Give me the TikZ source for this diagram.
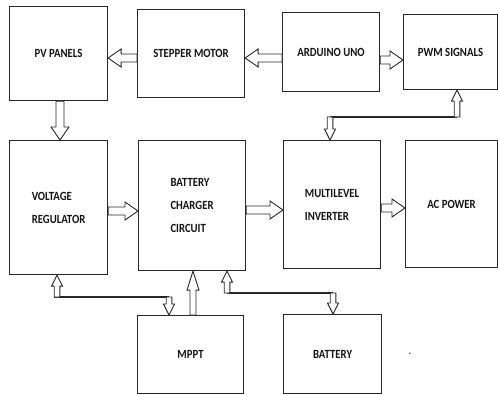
\documentclass[tikz,border=0pt]{standalone}
\usepackage{fontspec}
\setmainfont{Carlito}[FakeStretch=0.86]
\usetikzlibrary{calc}
\definecolor{cLine}{RGB}{40,40,40}
\definecolor{cText}{RGB}{20,20,20}
\tikzset{
	blk/.style={rectangle, draw=cLine, line width=1.1pt, align=left, inner sep=0pt, anchor=north west, text=cText, font=\bfseries\fontsize{12.5}{23}\selectfont},
	% hollow block arrow: shaft half-width, head half-width, head length
	hollow/.style n args={3}{draw=cLine, line width=0.9pt, fill=white, line join=miter, to path={
		let \p1=(\tikztostart), \p2=(\tikztotarget), \p3=($(\p2)!#3!(\p1)$) in
		($(\p1)!#1!90:(\p2)$) -- ($(\p3)!#1!90:(\p2)$) -- ($(\p3)!#2!90:(\p2)$) -- (\p2)
		-- ($(\p3)!#2!-90:(\p2)$) -- ($(\p3)!#1!-90:(\p2)$) -- ($(\p1)!#1!-90:(\p2)$) -- cycle}},
	bigarr/.style={hollow={4pt}{9pt}{13pt}},
	smallarr/.style={hollow={2.8pt}{5.5pt}{11pt}},
	bus/.style={draw=cLine, line width=1.2pt},
}
\begin{document}
\begin{tikzpicture}[x=1pt, y=-1pt]
	\fill[white] (0,0) rectangle (498,394);
	\useasboundingbox (0,0) rectangle (498,394);
	\node[blk, minimum width=98pt, minimum height=94pt] (pv) at (9,6) {PV PANELS};
	\node[blk, minimum width=107pt, minimum height=88pt] (sm) at (137,9) {STEPPER MOTOR};
	\node[blk, minimum width=97pt, minimum height=79pt] (ard) at (282,12) {ARDUINO UNO};
	\node[blk, minimum width=94pt, minimum height=75pt] (pwm) at (403,14) {PWM SIGNALS};
	\node[blk, minimum width=98pt, minimum height=134pt] (vr) at (9,140) {VOLTAGE\\REGULATOR};
	\node[blk, minimum width=107pt, minimum height=130pt] (bcc) at (138,140) {BATTERY\\CHARGER\\CIRCUIT};
	\node[blk, minimum width=97pt, minimum height=128pt] (mi) at (283,140) {MULTILEVEL\\INVERTER};
	\node[blk, minimum width=92pt, minimum height=127pt] (ac) at (405,140) {AC POWER};
	\node[blk, minimum width=106pt, minimum height=78pt] (mppt) at (137,315) {MPPT};
	\node[blk, minimum width=98pt, minimum height=79pt] (bat) at (283,314) {BATTERY};
	\node[font=\bfseries, text=cText, inner sep=0pt] (stray) at (410,354) {.};
	% top row and main power path
	\draw[bigarr] (sm.west |- 0,58) to (pv.east |- 0,58);
	\draw[bigarr] (ard.west |- 0,58) to (sm.east |- 0,58);
	\draw[bigarr] (ard.east |- 0,60) to (pwm.west |- 0,60);
	\draw[bigarr] (pv.south -| 60,0) to (vr.north -| 60,0);
	\draw[bigarr] (vr.east |- 0,211) to (bcc.west |- 0,211);
	\draw[bigarr] (bcc.east |- 0,210) to (mi.west |- 0,210);
	\draw[bigarr] (mi.east |- 0,208) to (ac.west |- 0,208);
	% pwm feedback
	\coordinate (pj) at (457,117);
	\coordinate (mj) at (330,117);
	\draw[bus] (pj) -- (mj);
	\draw[smallarr] (pj) to (pj |- pwm.south);
	\draw[smallarr] (mj) to (mj |- mi.north);
	% bottom links
	\coordinate (vj) at (57,297);
	\coordinate (mpj) at (169,297);
	\coordinate (cj) at (227,293);
	\coordinate (bj) at (333,293);
	\draw[bus] ([xshift=-3pt]vj) -- (mpj);
	\draw[bus] (cj) -- (bj);
	\draw[smallarr] (vj) to (vj |- vr.south);
	\draw[smallarr] (mpj) to (mpj |- mppt.north);
	\draw[hollow={3pt}{6pt}{19pt}] (mppt.north -| 193,0) to (bcc.south -| 193,0);
	\draw[smallarr] (cj) to (cj |- bcc.south);
	\draw[smallarr] (bj) to (bj |- bat.north);
\end{tikzpicture}
\end{document}
